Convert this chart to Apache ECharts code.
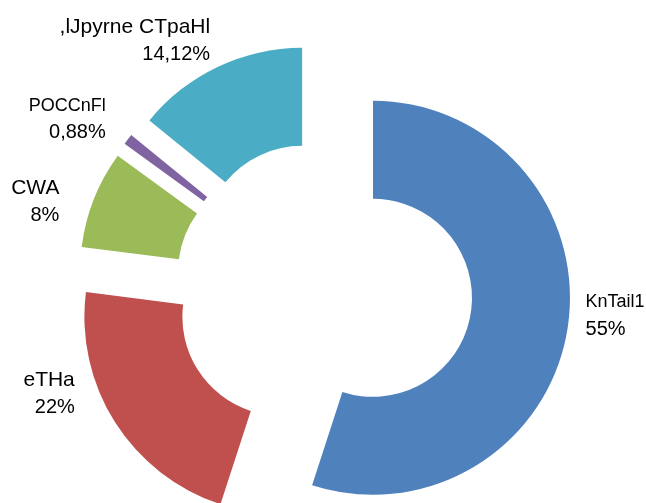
<!DOCTYPE html>
<html>
<head>
<meta charset="utf-8">
<style>
  html, body { margin: 0; padding: 0; background: #fff; }
  #chart { width: 646px; height: 503px; }
</style>
<script src="https://cdn.jsdelivr.net/npm/echarts@6/dist/echarts.min.js"></script>
</head>
<body>
<div id="chart"></div>
<script>
// данные
const names = ['KnTail1', 'eTHa', 'CWA', 'POCCnFl', ',lJpyrne CTpaHl']
const values = [55, 22, 8, 0.88, 14.12]

// стиль
const colors = ['#4F81BD', '#C0504D', '#9BBB59', '#8064A2', '#4BACC6']
// длины выносок [length, length2] для каждой подписи
const labelLines = [[-82, 94], [-53, 80], [-8, 37], [33, -9], [29, -10]]
// в оригинале эти подписи набраны уже
const narrowNames = ['KnTail1', 'POCCnFl']

const chart = echarts.init(document.getElementById('chart'))

const pieData = names.map((name, i) => ({
  name: name,
  value: values[i],
  selected: true,
  itemStyle: { color: colors[i] },
  labelLine: { show: false, length: labelLines[i][0], length2: labelLines[i][1] }
}))

const font = 'Liberation Sans, Arial, sans-serif'

const option = {
  animation: false,
  series: [{
    type: 'pie',
    center: [323.6, 290],
    radius: [99, 197],
    startAngle: 90,
    clockwise: true,
    selectedMode: 'multiple',
    selectedOffset: 50,
    avoidLabelOverlap: false,
    select: { itemStyle: { borderWidth: 0 } },
    emphasis: { disabled: true },
    label: {
      show: true,
      position: 'outside',
      color: '#000',
      fontSize: 21,
      lineHeight: 27,
      fontFamily: font,
      formatter: p => {
        const pct = String(p.value).replace('.', ',') + '%'
        const style = narrowNames.includes(p.name) ? 'nn' : 'n'
        return '{' + style + '|' + p.name + '}\n{v|' + pct + '}'
      },
      rich: {
        n: { fontSize: 21, lineHeight: 27, fontFamily: font },
        nn: { fontSize: 18, lineHeight: 27, fontFamily: font },
        v: { fontSize: 20, lineHeight: 27, fontFamily: font }
      }
    },
    labelLine: { show: false },
    data: pieData
  }]
}

chart.setOption(option)
</script>
</body>
</html>
